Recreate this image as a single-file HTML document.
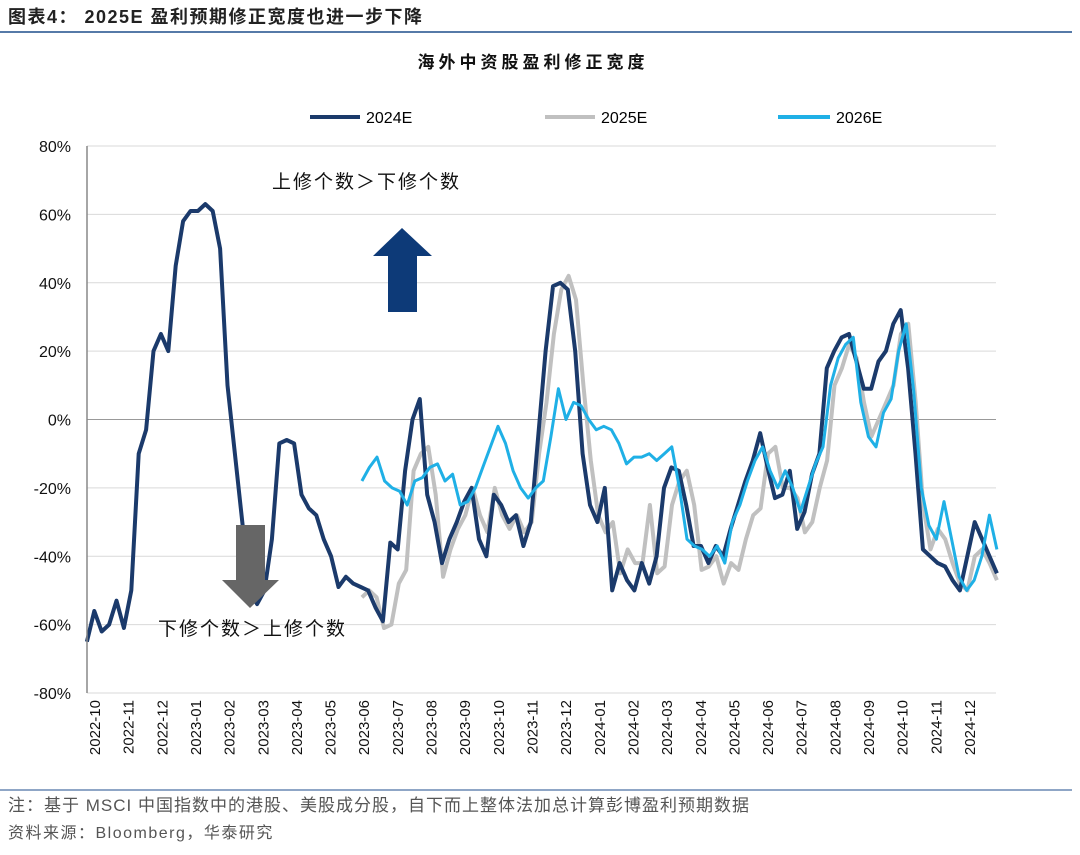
<!DOCTYPE html>
<html><head><meta charset="utf-8">
<style>
body{margin:0;background:#fff;width:1080px;height:850px;overflow:hidden;font-family:"Liberation Sans","Noto Sans CJK SC",sans-serif;}
</style></head>
<body>
<svg id="chart" width="1080" height="850" xmlns="http://www.w3.org/2000/svg" font-family="Liberation Sans, Noto Sans CJK SC, sans-serif">
<text x="8" y="23" font-size="18" font-weight="bold" fill="#222" letter-spacing="1.5">图表4：  2025E 盈利预期修正宽度也进一步下降</text>
<line x1="0" y1="32" x2="1072" y2="32" stroke="#1f4e8c" stroke-width="1.5"/>
<text x="533" y="68" font-size="17" font-weight="bold" text-anchor="middle" fill="#111" letter-spacing="4">海外中资股盈利修正宽度</text>
<g id="grid"></g><g id="series"></g><g id="axes"></g>
<g>
<line x1="310" y1="117" x2="360" y2="117" stroke="#1b3a6b" stroke-width="4"/>
<text x="366" y="123" font-size="16">2024E</text>
<line x1="545" y1="117" x2="595" y2="117" stroke="#c0c0c0" stroke-width="4"/>
<text x="601" y="123" font-size="16">2025E</text>
<line x1="778" y1="117" x2="830" y2="117" stroke="#1fb0e6" stroke-width="4"/>
<text x="836" y="123" font-size="16">2026E</text>
</g>
<polygon points="388,312 417,312 417,256 432,256 402,228 373,256 388,256" fill="#0d3a78"/>
<polygon points="236,525 265,525 265,580 279,580 250,608 222,580 236,580" fill="#666"/>
<text x="272" y="188" font-size="19" fill="#111" letter-spacing="2">上修个数＞下修个数</text>
<text x="158" y="635" font-size="19" fill="#111" letter-spacing="2">下修个数＞上修个数</text>
<line x1="0" y1="790" x2="1072" y2="790" stroke="#1f4e8c" stroke-width="1"/>
<text x="8" y="811" font-size="17" fill="#555" letter-spacing="1">注：基于 MSCI 中国指数中的港股、美股成分股，自下而上整体法加总计算彭博盈利预期数据</text>
<text x="8" y="838" font-size="16" fill="#555" letter-spacing="1.5">资料来源：Bloomberg，华泰研究</text>
</svg>
<script>
const months=["2022-10","2022-11","2022-12","2023-01","2023-02","2023-03","2023-04","2023-05","2023-06","2023-07","2023-08","2023-09","2023-10","2023-11","2023-12","2024-01","2024-02","2024-03","2024-04","2024-05","2024-06","2024-07","2024-08","2024-09","2024-10","2024-11","2024-12"];
const yTicks=[80,60,40,20,0,-20,-40,-60,-80];
const span2024=[-0.24,26.8];
const span2025=[7.93,26.8];
const span2026=[7.93,26.8];
const s2024=[-65,-56,-62,-60,-53,-61,-50,-10,-3,20,25,20,45,58,61,61,63,61,50,10,-10,-30,-50,-54,-50,-35,-7,-6,-7,-22,-26,-28,-35,-40,-49,-46,-48,-49,-50,-55,-59,-36,-38,-15,0,6,-22,-30,-42,-35,-30,-24,-20,-35,-40,-22,-25,-30,-28,-37,-30,-5,20,39,40,38,20,-10,-25,-30,-20,-50,-42,-47,-50,-42,-48,-40,-20,-14,-15,-25,-37,-37,-42,-37,-40,-32,-25,-18,-12,-4,-14,-23,-22,-15,-32,-27,-16,-10,15,20,24,25,17,9,9,17,20,28,32,15,-10,-38,-40,-42,-43,-47,-50,-40,-30,-35,-40,-45];
const s2025=[-52,-50,-52,-61,-60,-48,-44,-15,-10,-8,-22,-46,-38,-32,-28,-20,-28,-33,-20,-28,-32,-28,-33,-30,-10,5,25,38,42,35,10,-12,-28,-33,-30,-45,-38,-42,-42,-25,-45,-43,-25,-18,-15,-25,-44,-43,-40,-48,-42,-44,-35,-28,-26,-10,-8,-20,-20,-23,-33,-30,-20,-12,10,15,22,18,5,-5,0,5,10,25,28,5,-25,-38,-32,-35,-42,-48,-50,-40,-38,-42,-47];
const s2026=[-18,-14,-11,-18,-20,-21,-25,-18,-17,-14,-13,-18,-16,-25,-24,-20,-14,-8,-2,-7,-15,-20,-23,-20,-18,-5,9,0,5,4,0,-3,-2,-3,-7,-13,-11,-11,-10,-12,-10,-8,-20,-35,-37,-38,-40,-37,-42,-30,-25,-18,-12,-8,-15,-20,-15,-20,-27,-20,-13,-8,10,18,22,24,5,-5,-8,2,6,20,28,8,-20,-31,-35,-24,-35,-46,-50,-47,-40,-28,-38];
const NS="http://www.w3.org/2000/svg";
const X0=87,X1=996,Y0=146,Y1=693;
const xm=m=>95+m*((970-95)/26);
const yv=v=>Y0+(80-v)*(Y1-Y0)/160;
function mk(tag,attrs,parent){const e=document.createElementNS(NS,tag);for(const k in attrs)e.setAttribute(k,attrs[k]);parent.appendChild(e);return e;}
const grid=document.getElementById('grid'),axes=document.getElementById('axes'),ser=document.getElementById('series');
yTicks.forEach(t=>{
 const l=mk('line',{x1:X0,x2:X1,y1:yv(t),y2:yv(t),stroke:t===0?'#999':'#d9d9d9','stroke-width':1},grid);
 
 
 const tx=mk('text',{x:X0-16,y:yv(t)+6,'font-size':16,'text-anchor':'end',fill:'#111'},axes);
 tx.textContent=t+'%';
 
 
});
const ax=mk('line',{x1:X0,x2:X0,y1:Y0,y2:Y1,stroke:'#888','stroke-width':1.5},axes);


months.forEach((m,i)=>{
 const x=xm(i);
 const tx=mk('text',{x:0,y:0,'font-size':15,'text-anchor':'end',fill:'#111',transform:`translate(${x+5},${700}) rotate(-90)`},axes);
 tx.textContent=m;
 
 
});
function draw(vals,span,color,w,name){
 const step=(span[1]-span[0])/(vals.length-1);
 const d=vals.map((v,i)=>(i?'L':'M')+xm(span[0]+i*step).toFixed(1)+','+yv(v).toFixed(1)).join('');
 const p=mk('path',{d:d,fill:'none',stroke:color,'stroke-width':w,'stroke-linejoin':'round'},ser);
 
 
}
draw(s2025,span2025,'#c0c0c0',4,'series-2025e');
draw(s2024,span2024,'#1b3a6b',4,'series-2024e');
draw(s2026,span2026,'#1fb0e6',3,'series-2026e');
</script>
</body></html>
